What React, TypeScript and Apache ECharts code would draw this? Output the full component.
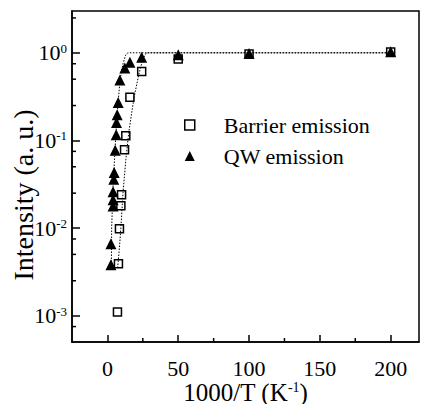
import React, { useEffect, useRef } from 'react';
import * as echarts from 'echarts';

const FONT = 'Liberation Serif';

const X_MIN = -25;
const X_MAX = 220;
const Y_MIN = 0.0005;
const Y_MAX = 3;

const xMajorTicks = [0, 50, 100, 150, 200];
const xMinorTicks = [25, 75, 125, 175];
const yMinorTicks = [0.00075, 0.0025, 0.005, 0.0075, 0.025, 0.05, 0.075, 0.25, 0.5, 0.75, 2.5];

const barrierX = [7.1, 7.8, 8.5, 9.5, 10, 12.1, 13, 15.9, 24.2, 50, 100, 200];
const barrierY = [0.0011, 0.0039, 0.0098, 0.018, 0.024, 0.078, 0.113, 0.31, 0.61, 0.85, 0.97, 1.02];

const qwX = [2.5, 2.5, 4.0, 4.0, 4.0, 4.5, 4.8, 5.5, 6.2, 6.4, 6.9, 7.6, 8.8, 12.3, 15.9, 24.2, 50, 100, 200];
const qwY = [0.0038, 0.0066, 0.0178, 0.021, 0.026, 0.036, 0.043, 0.077, 0.116, 0.16, 0.196, 0.27, 0.49, 0.67, 0.78, 0.89, 0.95, 0.98, 1.03];

const qwFitX = [2.8, 3.0, 4.0, 5.0, 6.0, 7.5, 9.0, 11.0, 13.0, 14.5, 200];
const qwFitY = [0.0035, 0.01, 0.03, 0.06, 0.12, 0.27, 0.5, 0.75, 0.95, 1.0, 1.0];

const barrierFitX = [7.2, 8.5, 9.5, 11, 13, 15, 17, 19, 22, 25, 27.5, 200];
const barrierFitY = [0.0035, 0.006, 0.01, 0.025, 0.06, 0.12, 0.2, 0.32, 0.55, 0.85, 1.0, 1.0];

const Y_TITLE = 'Intensity (a. u.)';

const zip = (xs: number[], ys: number[]) => xs.map((x, i) => [x, ys[i]]);

export default function App() {
  const ref = useRef<HTMLDivElement>(null);
  useEffect(() => {
    if (!ref.current) return;
    document.body.style.margin = '0';
    const chart = echarts.init(ref.current, null, { renderer: 'svg' });
    const tickRich = {
      b: { fontFamily: FONT, fontSize: 22, color: '#000', lineHeight: 22 },
      s: { fontFamily: FONT, fontSize: 13, color: '#000', lineHeight: 6, verticalAlign: 'top' },
    };
    const nameRich = {
      b: { fontFamily: FONT, fontSize: 25, color: '#000', lineHeight: 24 },
      s: { fontFamily: FONT, fontSize: 14, color: '#000', lineHeight: 6, verticalAlign: 'top' },
    };
    chart.setOption({
      animation: false,
      grid: {
        left: 72,
        top: 11,
        right: 3,
        bottom: 62,
        containLabel: false,
        outerBoundsMode: 'none',
        show: true,
        borderColor: '#000',
        borderWidth: 1.5,
        backgroundColor: 'transparent',
      },
      graphic: [
        {
          type: 'text',
          x: 23,
          y: 195,
          rotation: Math.PI / 2,
          silent: true,
          style: {
            text: Y_TITLE,
            fontFamily: FONT,
            fontSize: 28,
            fill: '#000',
            textAlign: 'center',
            textVerticalAlign: 'middle',
            align: 'center',
            verticalAlign: 'middle',
          },
        },
      ],
      legend: {
        orient: 'vertical',
        left: 179,
        top: 109,
        itemWidth: 58,
        itemHeight: 10,
        itemGap: 9,
        symbolKeepAspect: true,
        textStyle: { fontFamily: FONT, fontSize: 22, color: '#000' },
        data: [
          {
            name: 'Barrier emission',
            icon: 'path://M0,0 L10,0 L10,10 L0,10 Z',
            itemStyle: { color: '#fff', borderColor: '#000', borderWidth: 1.5 },
          },
          {
            name: 'QW emission',
            icon: 'path://M5,0 L10,10 L0,10 Z',
            itemStyle: { color: '#000', borderWidth: 0 },
          },
        ],
      },
      xAxis: {
        type: 'value',
        min: X_MIN,
        max: X_MAX,
        name: '{b|1000/T (K}{s|-1}{b|)}',
        nameLocation: 'middle',
        nameGap: 38,
        nameMoveOverlap: false,
        nameTextStyle: { rich: nameRich, fontFamily: FONT, fontSize: 25, color: '#000' },
        axisLine: { show: true, onZero: false, lineStyle: { color: '#000', width: 1.5 } },
        axisTick: { show: true, inside: true, length: 7, lineStyle: { color: '#000', width: 1.5 }, customValues: xMajorTicks },
        axisLabel: { customValues: xMajorTicks, fontFamily: FONT, fontSize: 22, color: '#000', margin: 15 },
        splitLine: { show: false },
      },
      yAxis: {
        type: 'log',
        min: Y_MIN,
        max: Y_MAX,
        logBase: 10,
        axisLine: { show: true, onZero: false, lineStyle: { color: '#000', width: 1.5 } },
        axisTick: { show: true, inside: true, length: 8, lineStyle: { color: '#000', width: 1.5 } },
        axisLabel: {
          fontFamily: FONT,
          fontSize: 22,
          color: '#000',
          margin: 5,
          showMinLabel: false,
          showMaxLabel: false,
          formatter: (v: number) => {
            const e = Math.round(Math.log10(v));
            if (Math.abs(Math.log10(v) - e) > 1e-6) return '';
            return '{b|10}{s|' + e + '}';
          },
          rich: tickRich,
        },
        splitLine: { show: false },
      },
      series: [
        {
          name: 'yMinor',
          type: 'custom',
          silent: true,
          clip: false,
          data: yMinorTicks.map((v) => [X_MIN, v]),
          renderItem: (_p: any, api: any) => {
            const pt = api.coord([api.value(0), api.value(1)]);
            return {
              type: 'line',
              shape: { x1: pt[0], y1: pt[1], x2: pt[0] + 4, y2: pt[1] },
              style: { stroke: '#000', lineWidth: 1.5 },
            };
          },
        },
        {
          name: 'xMinor',
          type: 'custom',
          silent: true,
          clip: false,
          data: xMinorTicks.map((v) => [v, Y_MIN]),
          renderItem: (_p: any, api: any) => {
            const pt = api.coord([api.value(0), api.value(1)]);
            return {
              type: 'line',
              shape: { x1: pt[0], y1: pt[1], x2: pt[0], y2: pt[1] - 4 },
              style: { stroke: '#000', lineWidth: 1.5 },
            };
          },
        },
        {
          name: 'qwFit',
          type: 'line',
          data: zip(qwFitX, qwFitY),
          showSymbol: false,
          symbol: 'none',
          silent: true,
          lineStyle: { color: '#000', width: 1, type: [1.5, 1.5] },
        },
        {
          name: 'barrierFit',
          type: 'line',
          data: zip(barrierFitX, barrierFitY),
          showSymbol: false,
          symbol: 'none',
          silent: true,
          lineStyle: { color: '#000', width: 1, type: [1.5, 1.5] },
        },
        {
          name: 'Barrier emission',
          type: 'scatter',
          data: zip(barrierX, barrierY),
          symbol: 'rect',
          symbolSize: 8,
          itemStyle: { color: '#fff', borderColor: '#000', borderWidth: 1.5, opacity: 1 },
        },
        {
          name: 'QW emission',
          type: 'scatter',
          data: zip(qwX, qwY),
          symbol: 'triangle',
          symbolSize: 11,
          itemStyle: { color: '#000', opacity: 1 },
        },
      ],
    });
    return () => chart.dispose();
  }, []);
  return <div ref={ref} style={{ position: 'absolute', left: 0, top: 0, width: 422, height: 404 }} />;
}
